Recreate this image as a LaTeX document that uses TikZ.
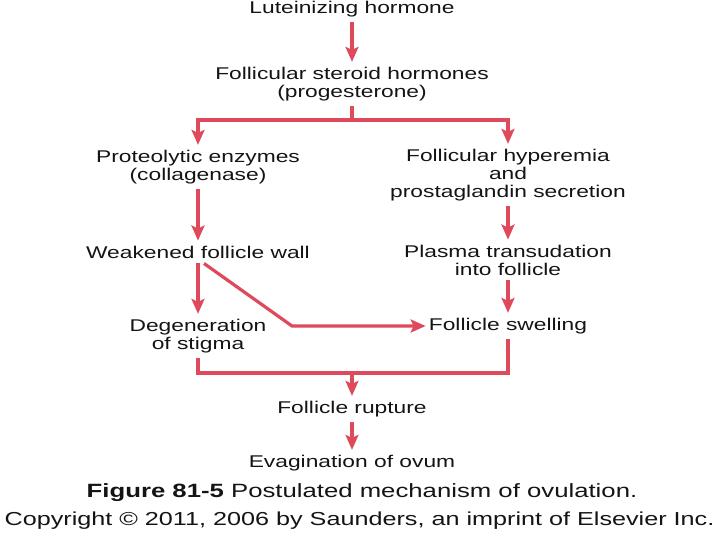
\documentclass[tikz,border=0pt]{standalone}
\usepackage{fontspec}
\setmainfont[FakeStretch=1.34]{Liberation Sans}
\usetikzlibrary{arrows.meta}
\definecolor{arr}{RGB}{222,74,92}
\definecolor{txt}{RGB}{20,20,20}
\begin{document}
\begin{tikzpicture}[x=1pt,y=-1pt,
  lbl/.style={inner xsep=0pt,inner ysep=5pt,align=center,text=txt,font=\fontsize{17}{18}\selectfont},
  captext/.style={inner sep=0pt,text=txt,font=\fontsize{19.2}{22}\selectfont},
  con/.style={draw=arr,line width=3.2pt},
  flow/.style={con,-{Stealth[length=15pt,width=13pt,inset=3pt]}}]
\useasboundingbox (0,0) rectangle (720,540);
\node[lbl] (lh) at (352,9) {Luteinizing hormone};
\node[lbl] (st) at (352,84) {Follicular steroid hormones\\(progesterone)};
\node[lbl] (pe) at (198,167) {Proteolytic enzymes\\(collagenase)};
\node[lbl] (fh) at (508,175) {Follicular hyperemia\\and\\prostaglandin secretion};
\node[lbl] (wf) at (198,252) {Weakened follicle wall};
\node[lbl] (pt) at (508,260) {Plasma transudation\\into follicle};
\node[lbl] (dg) at (198,336) {Degeneration\\of stigma};
\node[lbl] (fs) at (508,326) {Follicle swelling};
\node[lbl] (fr) at (352,409) {Follicle rupture};
\node[lbl] (ev) at (352,463) {Evagination of ovum};
\node[captext] (fig) at (362,493) {\textbf{Figure 81-5} Postulated mechanism of ovulation.};
\node[captext,font=\fontsize{18.8}{22}\selectfont] (cp) at (359.5,521) {Copyright © 2011, 2006 by Saunders, an imprint of Elsevier Inc.};
\coordinate (br) at (352,120);
\coordinate (mg) at (352,373);
\coordinate (bend) at (292,0 |- fs.west);
\draw[flow] (lh) -- (st);
\draw[con] (st.south) -- (br);
\draw[flow] (br) -| (pe.north);
\draw[flow] (br) -| (fh.north);
\draw[flow] (pe) -- (wf);
\draw[flow] (fh) -- (pt);
\draw[flow] (wf.south) -- (dg.north);
\draw[flow] (pt.south) -- (pt.south |- fs.north);
\draw[flow,shorten >=3pt,line join=miter] ([xshift=6pt]wf.south) -- (bend) -- (fs.west);
\draw[con] (dg.south) |- (mg) -| (fs.south);
\draw[flow] (mg) -- (fr);
\draw[flow] (fr) -- (ev);
\end{tikzpicture}
\end{document}
